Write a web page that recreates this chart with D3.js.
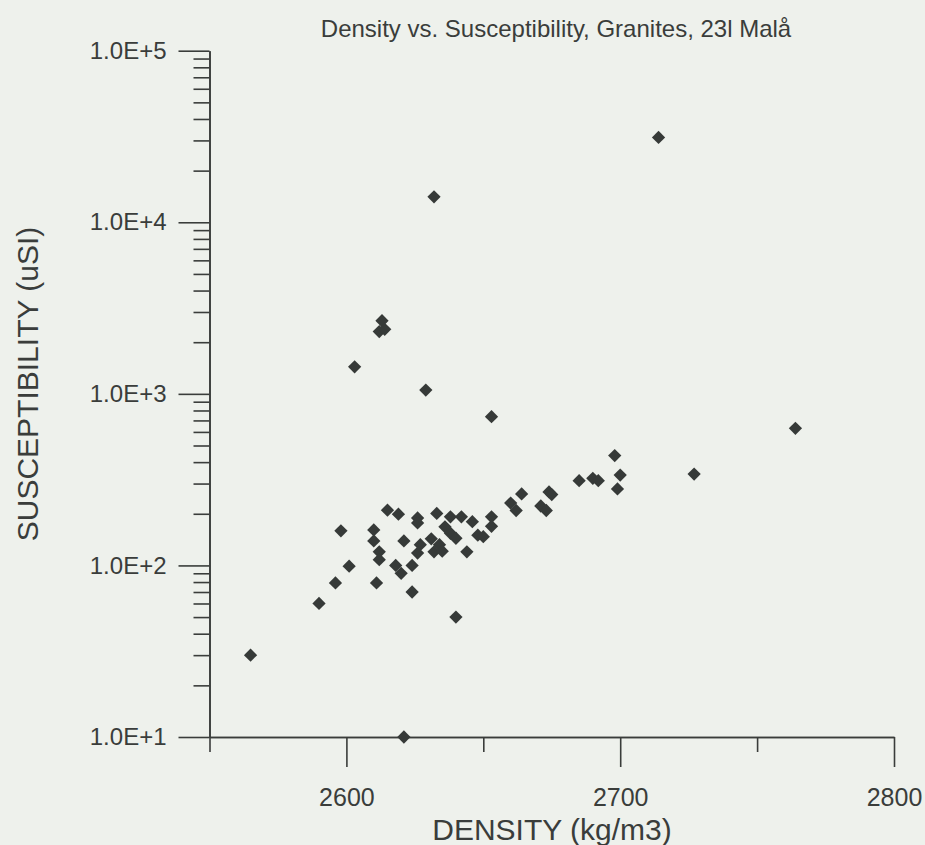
<!DOCTYPE html>
<html>
<head>
<meta charset="utf-8">
<script src="https://cdn.jsdelivr.net/npm/d3@7"></script>
<style>
  html, body { margin: 0; padding: 0; background: #eef1ec; }
  svg { display: block; font-family: "Liberation Sans", Arial, sans-serif; }
  .axis path, .axis line { stroke: #3a3d3b; stroke-width: 1.6; }
  .axis text { fill: #3a3d3b; }
</style>
</head>
<body>
<script>
// density (kg/m3) and susceptibility (uSI)
var density = [
  2565, 2590, 2596, 2601, 2598, 2610, 2610, 2612, 2612, 2611,
  2615, 2619, 2621, 2618, 2620, 2624, 2624, 2621, 2626, 2626,
  2627, 2626, 2631, 2634, 2632, 2635, 2633, 2638, 2642, 2646,
  2653, 2653, 2636, 2638, 2640, 2648, 2650, 2644, 2640, 2653,
  2664, 2660, 2662, 2671, 2673, 2674, 2675, 2685, 2690, 2692,
  2700, 2699, 2698, 2727, 2764, 2714, 2632, 2613, 2612, 2614,
  2603, 2629
];
var suscept = [
  30, 60, 79, 99, 159, 161, 139, 120, 108, 79,
  210, 199, 139, 100, 90, 100, 70, 10, 189, 177,
  132, 118, 143, 132, 120, 121, 201, 192, 192, 180,
  192, 169, 168, 154, 144, 150, 147, 120, 50, 736,
  261, 231, 209, 222, 209, 268, 259, 312, 322, 312,
  336, 279, 437, 341, 630, 31240, 14080, 2667, 2307, 2376,
  1438, 1052
];
var xMajor = [2600, 2700, 2800];
var xMinor = [2550, 2650, 2750];
var yMajor = [1e1, 1e2, 1e3, 1e4, 1e5];

var W = 925, H = 845;
var svg = d3.select('body').append('svg').attr('width', W).attr('height', H);

var x = d3.scaleLinear().domain([2550, 2800]).range([209.5, 894]);
var y = d3.scaleLog().domain([10, 1e5]).range([737, 50.7]);

// minor log ticks 2..9 in each decade
var yMinor = [];
yMajor.slice(0, -1).forEach(function (d) {
  for (var k = 2; k <= 9; k++) yMinor.push(d * k);
});

svg.append('g').attr('class', 'axis')
  .attr('transform', 'translate(' + x.range()[0] + ',0)')
  .call(d3.axisLeft(y).tickValues(yMinor).tickSize(16).tickSizeOuter(0).tickFormat(''));

svg.append('g').attr('class', 'axis')
  .attr('transform', 'translate(' + x.range()[0] + ',0)')
  .call(d3.axisLeft(y).tickValues(yMajor).tickSize(31).tickSizeOuter(0).tickPadding(12)
    .tickFormat(function (d) { return '1.0E+' + Math.round(Math.log10(d)); }))
  .selectAll('text').style('font-size', '24px');

svg.append('g').attr('class', 'axis')
  .attr('transform', 'translate(0,' + y.range()[0] + ')')
  .call(d3.axisBottom(x).tickValues(xMinor).tickSize(15).tickSizeOuter(0).tickFormat(''));

svg.append('g').attr('class', 'axis')
  .attr('transform', 'translate(0,' + y.range()[0] + ')')
  .call(d3.axisBottom(x).tickValues(xMajor).tickSize(30).tickSizeOuter(0).tickPadding(21)
    .tickFormat(d3.format('d')))
  .selectAll('text').style('font-size', '25px');

svg.selectAll('.axis text').attr('font-family', null);

// points: squares turned 45 degrees
var diamond = d3.symbol().type(d3.symbolSquare).size(88);
svg.append('g').selectAll('path')
  .data(density.map(function (d, i) { return [d, suscept[i]]; }))
  .join('path')
  .attr('d', diamond)
  .attr('transform', function (d) {
    return 'translate(' + x(d[0]) + ',' + y(d[1]) + ') rotate(45)';
  })
  .attr('fill', '#363a38');

svg.append('text')
  .attr('x', 556).attr('y', 37)
  .attr('text-anchor', 'middle')
  .style('font-size', '24px').attr('fill', '#3a3d3b')
  .text('Density vs. Susceptibility, Granites, 23l Malå');

svg.append('text')
  .attr('x', 552).attr('y', 840)
  .attr('text-anchor', 'middle')
  .style('font-size', '30px').attr('fill', '#3a3d3b')
  .text('DENSITY (kg/m3)');

svg.append('text')
  .attr('transform', 'translate(38,384) rotate(-90)')
  .attr('text-anchor', 'middle')
  .style('font-size', '30px').attr('fill', '#3a3d3b')
  .text('SUSCEPTIBILITY (uSI)');
</script>
</body>
</html>
